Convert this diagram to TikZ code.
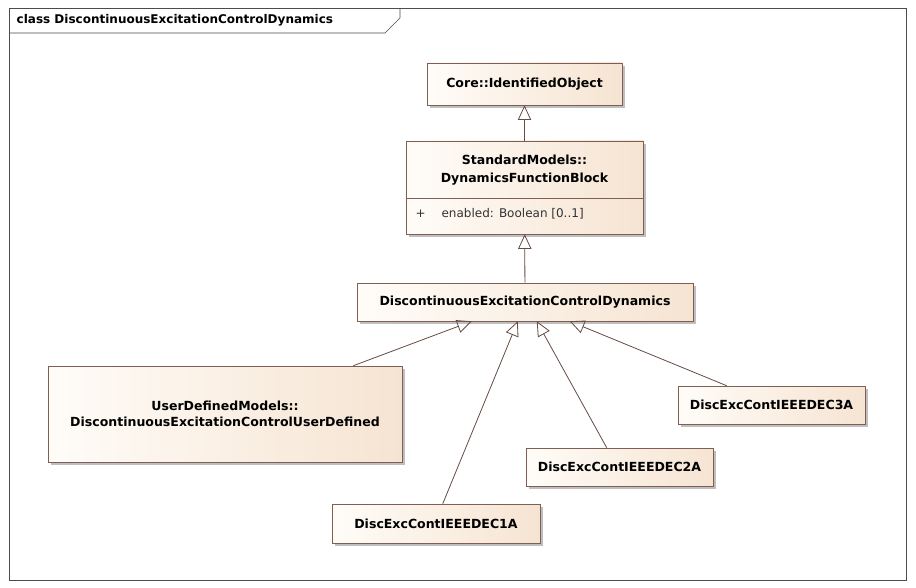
\documentclass[tikz,border=0pt]{standalone}
\usepackage{fontspec}
\setmainfont{DejaVu Sans}
\usetikzlibrary{arrows.meta, calc, shadows}
\definecolor{umlborder}{RGB}{125,95,85}
\definecolor{umlfill}{RGB}{246,228,210}
\definecolor{umllight}{RGB}{255,252,248}
\begin{document}
\begin{tikzpicture}[x=0.75pt, y=-0.75pt,
classbox/.style={draw=umlborder, rectangle, left color=umllight, right color=umlfill,
  align=center, font=\fontsize{9.4pt}{12pt}\selectfont\bfseries, inner sep=0pt,
  drop shadow={shadow xshift=2.5pt, shadow yshift=-2.5pt, fill=black!25, opacity=1}},
gen/.style={-{Triangle[open, length=11pt, width=10pt]}, draw=umlborder!80!black, line width=0.6pt}
]
\useasboundingbox (0,0) rectangle (916,588);
\fill[white] (0,0) rectangle (916,588);

% frame and title tab
\draw[black!70] (9,8) rectangle (906,580);
\draw[black!70] (9,33) -- (385,33) -- (400,18) -- (400,8);
\node[anchor=west, font=\fontsize{9pt}{12pt}\selectfont\bfseries] (title) at (12,20) {class DiscontinuousExcitationControlDynamics};

\node[classbox, minimum width=146.25pt, minimum height=31.5pt] (ident) at (524.5,84) {Core::IdentifiedObject};
\node[classbox, minimum width=177.75pt, minimum height=69.75pt] (dfb) at (524.5,187.5) {};
\node[align=center, font=\fontsize{9.4pt}{13pt}\selectfont\bfseries] (dfbname) at (524.5,170) {StandardModels::\\DynamicsFunctionBlock};
\draw[umlborder] (dfb.west |- 0,198) -- (dfb.east |- 0,198);
\node[anchor=west, font=\fontsize{9pt}{12pt}\selectfont, text=black!80] (attr) at (411,214) {+\quad\ enabled: Boolean [0..1]};
\node[classbox, minimum width=252pt, minimum height=28.5pt] (dcd) at (525,302) {DiscontinuousExcitationControlDynamics};
\node[classbox, minimum width=265.5pt, minimum height=72pt] (ud) at (225,414) {UserDefinedModels::\\DiscontinuousExcitationControlUserDefined};
\node[classbox, minimum width=140.25pt, minimum height=28.5pt] (dec3) at (771.5,405) {DiscExcContIEEEDEC3A};
\node[classbox, minimum width=140.25pt, minimum height=28.5pt] (dec2) at (619.5,467) {DiscExcContIEEEDEC2A};
\node[classbox, minimum width=156pt, minimum height=29.25pt] (dec1) at (436,523.5) {DiscExcContIEEEDEC1A};

\draw[gen] (dfb) -- (ident);
\draw[gen] (dcd) -- (dfb);
\draw[gen] ($(ud.north east)+(-49,0)$) -- ($(dcd.south west)+(115,0)$);
\draw[gen] ($(dec1.north west)+(111,0)$) -- ($(dcd.south west)+(161,0)$);
\draw[gen] ($(dec2.north west)+(81,0)$) -- ($(dcd.south west)+(180,0)$);
\draw[gen] ($(dec3.north west)+(49,0)$) -- ($(dcd.south west)+(213,0)$);
\end{tikzpicture}
\end{document}
